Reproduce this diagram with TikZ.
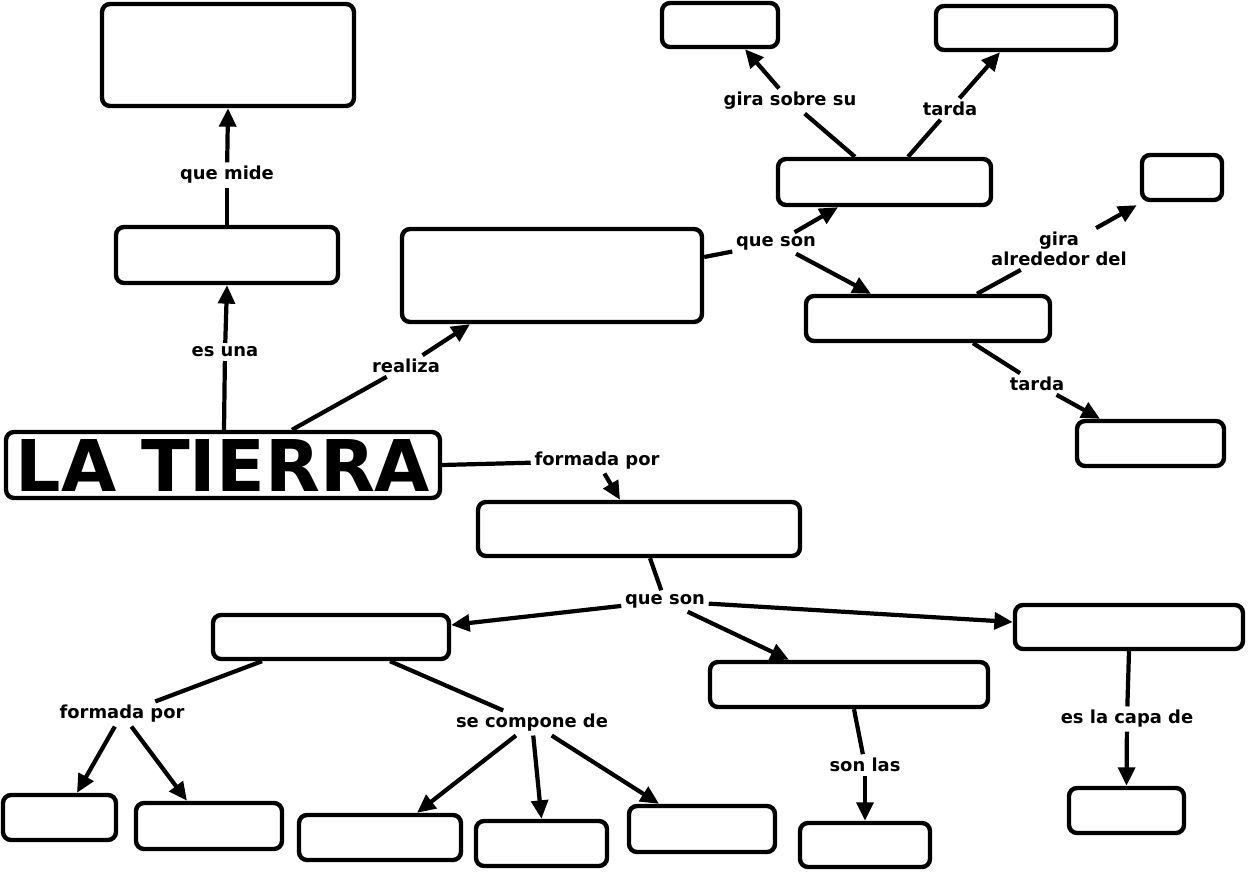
\documentclass[tikz,border=0pt]{standalone}
\usepackage{fontspec}
\setmainfont{DejaVu Sans}
\usetikzlibrary{arrows.meta}
\begin{document}
\begin{tikzpicture}[x=0.02cm,y=-0.02cm]
\tikzset{
 cbox/.style={draw, line width=2.5pt, rounded corners=0.16cm, fill=white, inner sep=0pt},
 lbl/.style={font=\fontsize{10.2}{11.5}\selectfont\bfseries, inner sep=2pt, align=center},
 conn/.style={line width=2.4pt},
 arr/.style={conn, -{Triangle[length=10.5pt,width=9.5pt]}},
}
\useasboundingbox[fill=white] (0,0) rectangle (1249,872);
% boxes
\node[cbox, minimum width=5.04cm, minimum height=2.04cm] (b1) at (228,55) {};
\node[cbox, minimum width=4.44cm, minimum height=1.12cm] (b2) at (227,255) {};
\node[cbox, minimum width=8.68cm, minimum height=1.32cm, font=\fontsize{40.6}{44}\selectfont\bfseries] (tierra) at (223,465) {LA TIERRA};
\node[cbox, minimum width=6.0cm, minimum height=1.86cm] (b4) at (552,275.5) {};
\node[cbox, minimum width=2.32cm, minimum height=0.88cm] (b5) at (720,25) {};
\node[cbox, minimum width=3.6cm, minimum height=0.88cm] (b6) at (1026,28) {};
\node[cbox, minimum width=4.26cm, minimum height=0.92cm] (b7) at (884.5,182) {};
\node[cbox, minimum width=1.6cm, minimum height=0.9cm] (b8) at (1182,177.5) {};
\node[cbox, minimum width=4.88cm, minimum height=0.9cm] (b9) at (928,318.5) {};
\node[cbox, minimum width=2.94cm, minimum height=0.9cm] (b10) at (1150.5,443.5) {};
\node[cbox, minimum width=6.44cm, minimum height=1.08cm] (b11) at (639,529) {};
\node[cbox, minimum width=4.72cm, minimum height=0.88cm] (b12) at (331,637) {};
\node[cbox, minimum width=5.56cm, minimum height=0.9cm] (b13) at (849,684.5) {};
\node[cbox, minimum width=4.56cm, minimum height=0.88cm] (b14) at (1129,627) {};
\node[cbox, minimum width=2.26cm, minimum height=0.9cm] (b15) at (59.5,817.5) {};
\node[cbox, minimum width=2.92cm, minimum height=0.92cm] (b16) at (209,826) {};
\node[cbox, minimum width=3.24cm, minimum height=0.9cm] (b17) at (380,837.5) {};
\node[cbox, minimum width=2.62cm, minimum height=0.9cm] (b18) at (541.5,843.5) {};
\node[cbox, minimum width=2.92cm, minimum height=0.92cm] (b19) at (702,829) {};
\node[cbox, minimum width=2.6cm, minimum height=0.88cm] (b20) at (865,845) {};
\node[cbox, minimum width=2.3cm, minimum height=0.9cm] (b21) at (1126.5,810.5) {};
% labels
\node[lbl] (qm) at (227,175) {que mide};
\node[lbl] (esuna) at (225,352) {es una};
\node[lbl] (realiza) at (406,366) {realiza};
\node[lbl] (qs1) at (776,243) {que son};
\node[lbl] (gss) at (790,101) {gira sobre su};
\node[lbl] (tarda1) at (950,109) {tarda};
\node[lbl] (gad) at (1059,249) {gira\\alrededor del};
\node[lbl] (tarda2) at (1037,384) {tarda};
\node[lbl] (fp1) at (597,461) {formada por};
\node[lbl] (qs2) at (665,601) {que son};
\node[lbl] (fp2) at (122,714) {formada por};
\node[lbl] (scd) at (532,723) {se compone de};
\node[lbl] (sonlas) at (865,765) {son las};
\node[lbl] (capa) at (1127,719) {es la capa de};
% connectors
\draw[conn] (b2.north) -- (qm);
\draw[arr] (qm) -- (b1.south);
\draw[conn] ([xshift=0.02cm]tierra.north) -- (esuna);
\draw[arr] (esuna) -- (b2.south);
\draw[conn] ([xshift=1.38cm]tierra.north) -- (realiza);
\draw[arr] (realiza) -- ([xshift=-1.64cm]b4.south);
\draw[conn] ([yshift=0.37cm]b4.east) -- (qs1);
\draw[arr] (qs1) -- ([xshift=-0.93cm]b7.south);
\draw[arr] (qs1) -- ([xshift=-1.14cm]b9.north);
\draw[conn] ([xshift=-0.59cm]b7.north) -- (gss);
\draw[arr] (gss) -- ([xshift=0.5cm]b5.south);
\draw[conn] ([xshift=0.47cm]b7.north) -- (tarda1);
\draw[arr] (tarda1) -- ([xshift=-0.52cm]b6.south);
\draw[conn] ([xshift=0.98cm]b9.north) -- (gad);
\draw[arr] (gad) -- ([shift={(-0.06cm,-0.06cm)}]b8.south west);
\draw[conn] ([xshift=0.9cm]b9.south) -- (tarda2);
\draw[arr] (tarda2) -- ([xshift=-1.01cm]b10.north);
\draw[conn] (tierra.east) -- (fp1);
\draw[arr] (fp1) -- ([xshift=-0.38cm]b11.north);
\draw[conn] ([xshift=0.22cm]b11.south) -- (qs2);
\draw[arr] (qs2) -- ([yshift=0.24cm]b12.east);
\draw[arr] (qs2) -- ([xshift=-1.2cm]b13.north);
\draw[arr] (qs2) -- ([yshift=0.1cm]b14.west);
\draw[conn] ([xshift=-1.38cm]b12.south) -- (fp2);
\draw[arr] (fp2) -- ([xshift=0.35cm]b15.north);
\draw[arr] (fp2) -- ([xshift=-0.44cm]b16.north);
\draw[conn] ([xshift=1.18cm]b12.south) -- (scd);
\draw[arr] (scd) -- ([xshift=0.74cm]b17.north);
\draw[arr] (scd) -- (b18.north);
\draw[arr] (scd) -- ([xshift=-0.86cm]b19.north);
\draw[conn] ([xshift=0.1cm]b13.south) -- (sonlas);
\draw[arr] (sonlas) -- (b20.north);
\draw[conn] (b14.south) -- (capa);
\draw[arr] (capa) -- (b21.north);
\end{tikzpicture}
\end{document}
